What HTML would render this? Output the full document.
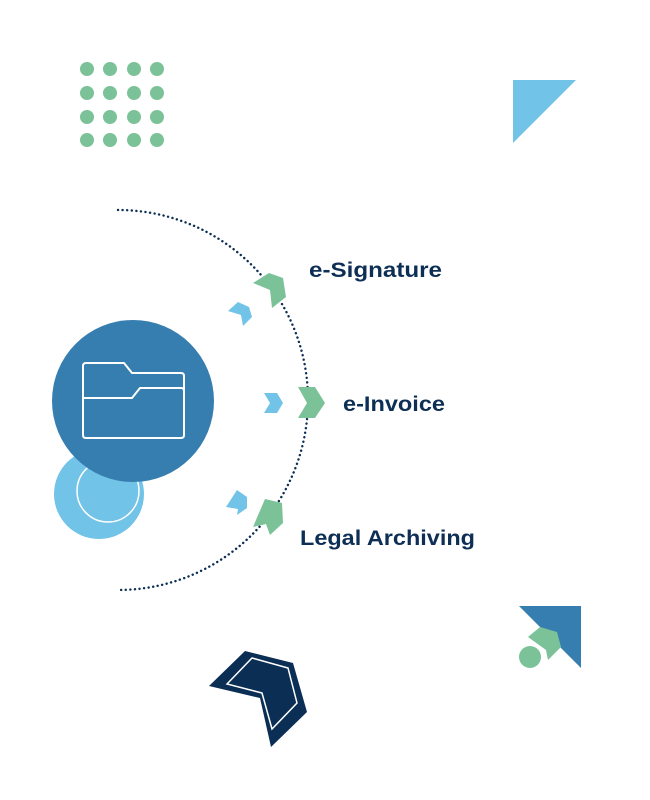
<!DOCTYPE html>
<html><head><meta charset="utf-8"><style>
html,body{margin:0;padding:0;background:#fff;width:650px;height:800px;overflow:hidden}
svg{display:block}
text{font-family:"Liberation Sans",sans-serif;font-weight:bold;fill:#0d2f55;font-size:21px}
</style></head><body>
<svg width="650" height="800" viewBox="0 0 650 800">
<g fill="#7cc298">
<circle cx="87" cy="69" r="7"/><circle cx="110" cy="69" r="7"/><circle cx="134" cy="69" r="7"/><circle cx="157" cy="69" r="7"/>
<circle cx="87" cy="93" r="7"/><circle cx="110" cy="93" r="7"/><circle cx="134" cy="93" r="7"/><circle cx="157" cy="93" r="7"/>
<circle cx="87" cy="117" r="7"/><circle cx="110" cy="117" r="7"/><circle cx="134" cy="117" r="7"/><circle cx="157" cy="117" r="7"/>
<circle cx="87" cy="140" r="7"/><circle cx="110" cy="140" r="7"/><circle cx="134" cy="140" r="7"/><circle cx="157" cy="140" r="7"/>
</g>
<polygon points="513,80 576,80 513,143" fill="#72c3e8"/>
<path d="M118,210 A190,190 0 0 1 118,590" fill="none" stroke="#0d2f55" stroke-width="2.4" stroke-dasharray="0.1,4.5" stroke-linecap="round"/>
<circle cx="99" cy="494" r="45" fill="#72c3e8"/>
<circle cx="108" cy="491" r="31" fill="none" stroke="#fff" stroke-width="1.5"/>
<circle cx="133" cy="401" r="81" fill="#377eb0"/>
<g fill="none" stroke="#fff" stroke-width="2" stroke-linejoin="round">
<path d="M86,363 H124 L132,373 H181 Q184,373 184,376 V435 Q184,438 181,438 H86 Q83,438 83,435 V366 Q83,363 86,363 Z"/>
<path d="M83,398 H132 L140,388 H181 Q184,388 184,391"/>
</g>
<polygon points="228,311 238,302 249,307 252,317 243,326 241,315" fill="#72c3e8"/>
<polygon points="253,283 269,273 283,278 286,297 272,308 270,290" fill="#7cc298"/>
<polygon points="264,393 277,393 283,403 277,413 264,413 270,403" fill="#72c3e8"/>
<polygon points="298,387 315,387 325,403 315,418 298,418 307,403" fill="#7cc298"/>
<polygon points="226,507 237,490 247,497 247,508 237,515 238,509" fill="#72c3e8"/>
<polygon points="253,527 265,499 282,503 283,523 270,535 266,524" fill="#7cc298"/>
<text x="309" y="277" textLength="133" lengthAdjust="spacingAndGlyphs">e-Signature</text>
<text x="343" y="411" textLength="102" lengthAdjust="spacingAndGlyphs">e-Invoice</text>
<text x="300" y="545" textLength="175" lengthAdjust="spacingAndGlyphs">Legal Archiving</text>
<polygon points="209,686 245,651 293,663 307,712 271,747 260,698" fill="#0b2e55"/>
<polygon points="227,684 252,658 288,668 297,703 272,729 262,693" fill="none" stroke="#fff" stroke-width="1.5"/>
<polygon points="519,606 581,606 581,668" fill="#377eb0"/>
<polygon points="528,637 540,627 557,632 561,647 548,660 546,650" fill="#7cc298"/>
<circle cx="530" cy="657" r="11" fill="#7cc298"/>
</svg>
</body></html>
